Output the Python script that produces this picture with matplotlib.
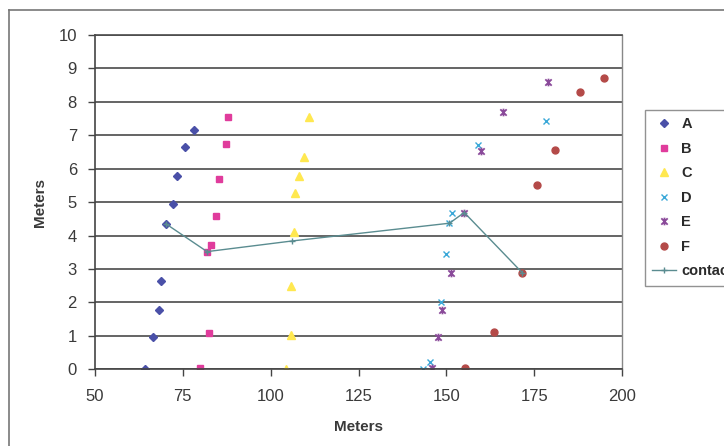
import matplotlib
matplotlib.use("Agg")
import matplotlib.pyplot as plt
from matplotlib.path import Path
from matplotlib.lines import Line2D

plt.rcParams['font.family'] = ['Liberation Sans', 'DejaVu Sans']

# Survey points (x, y in meters)
a_x = [64.2, 66.5, 68.2, 68.9, 70.2, 72.2, 73.4, 75.5, 78.3]
a_y = [0.0, 0.96, 1.77, 2.65, 4.35, 4.94, 5.78, 6.66, 7.16]

b_x = [80.0, 82.4, 81.9, 83.0, 84.5, 85.3, 87.3, 87.9]
b_y = [0.03, 1.08, 3.52, 3.71, 4.60, 5.70, 6.75, 7.54]

c_x = [104.4, 105.8, 105.8, 106.7, 106.8, 108.2, 109.4, 110.9]
c_y = [0.0, 1.03, 2.49, 4.12, 5.28, 5.78, 6.34, 7.54]

d_x = [143.3, 145.3, 148.5, 150.0, 150.9, 151.6, 158.9, 178.3]
d_y = [0.0, 0.21, 2.00, 3.45, 4.37, 4.69, 6.72, 7.44]

e_x = [146.0, 147.6, 148.9, 151.2, 155.1, 159.8, 166.2, 179.0]
e_y = [0.03, 0.98, 1.77, 2.89, 4.69, 6.54, 7.69, 8.58]

f_x = [155.3, 163.7, 171.6, 175.9, 180.9, 188.1, 195.0]
f_y = [0.03, 1.11, 2.89, 5.51, 6.56, 8.28, 8.70]

contact_x = [70.2, 81.9, 106.2, 150.9, 155.1, 171.6]
contact_y = [4.35, 3.52, 3.84, 4.37, 4.69, 2.89]

x_ticks = [50, 75, 100, 125, 150, 175, 200]
y_ticks = list(range(0, 11))

# asterisk marker: an "x" crossed by a vertical bar
star = Path(
    [(-1, -1), (1, 1), (-1, 1), (1, -1), (0, -1.2), (0, 1.2)],
    [Path.MOVETO, Path.LINETO, Path.MOVETO, Path.LINETO, Path.MOVETO, Path.LINETO],
)

fig = plt.figure(figsize=(7.24, 4.46), dpi=100)
ax = fig.add_axes([95 / 724, 1 - 369.3 / 446, (622 - 95) / 724, (369.3 - 35) / 446])

ax.set_xlim(50, 200)
ax.set_ylim(0, 10)
ax.set_xticks(x_ticks)
ax.set_yticks(y_ticks)

ax.yaxis.grid(True, color='#4a4a4a', linewidth=1.2)
ax.set_axisbelow(True)

ax.plot(a_x, a_y, linestyle='none', marker='D', ms=4.5, color='#4a50a8', label='A')
ax.plot(b_x, b_y, linestyle='none', marker='s', ms=5, color='#e03c9c', label='B')
ax.plot(c_x, c_y, linestyle='none', marker='^', ms=5.5, color='#ffe850', label='C')
ax.plot(d_x, d_y, linestyle='none', marker='x', ms=5, mew=1, color='#3aa8d8', label='D')
ax.plot(e_x, e_y, linestyle='none', marker=star, ms=5.5, mew=1.3, color='#8a4a9a', label='E')
ax.plot(f_x, f_y, linestyle='none', marker='o', ms=5, color='#b44a48', label='F')
ax.plot(contact_x, contact_y, linestyle='-', linewidth=1, marker='+', ms=4, mew=1,
        color='#5a8c90', label='contact')

for side in ('left', 'bottom'):
    ax.spines[side].set_color('#444444')
    ax.spines[side].set_linewidth(1.2)
ax.spines['top'].set_color('#4a4a4a')
ax.spines['top'].set_linewidth(1.2)
ax.spines['right'].set_color('#888888')
ax.spines['right'].set_linewidth(1.0)

ax.tick_params(axis='both', direction='out', length=5, width=1, color='#444444',
               labelsize=12, labelcolor='#3a3a3a')
ax.tick_params(axis='y', pad=8)
ax.tick_params(axis='x', pad=9)

ax.set_xlabel('Meters', fontsize=11, fontweight='bold', color='#3a3a3a', labelpad=12)
ax.set_ylabel('Meters', fontsize=11, fontweight='bold', color='#3a3a3a', labelpad=8)

leg = fig.legend(loc='upper left', bbox_to_anchor=(645 / 724, 1 - 110 / 446),
                 bbox_transform=fig.transFigure, frameon=True, fancybox=False,
                 fontsize=10.5, labelspacing=0.72, handlelength=1.6, handletextpad=0.4,
                 borderpad=0.5, borderaxespad=0)
leg.get_frame().set_edgecolor('#777777')
leg.get_frame().set_linewidth(1.0)
for t in leg.get_texts():
    t.set_color('#2a2a2a')
    t.set_fontweight('bold')

# outer chart frame
fig.add_artist(Line2D([9 / 724, 1], [1 - 10 / 446, 1 - 10 / 446], transform=fig.transFigure,
                      color='#777777', linewidth=1.2))
fig.add_artist(Line2D([9 / 724, 9 / 724], [0, 1 - 10 / 446], transform=fig.transFigure,
                      color='#777777', linewidth=1.2))

fig.savefig('out.png', dpi=100)
